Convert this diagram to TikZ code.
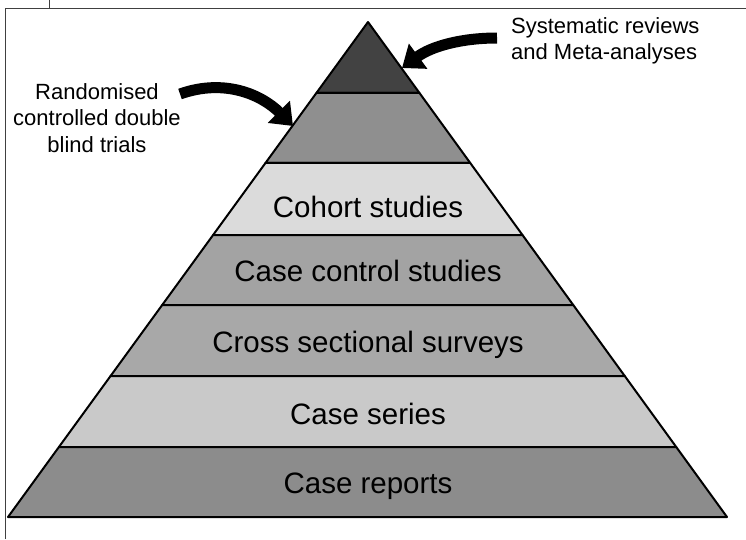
\documentclass[tikz,border=0pt]{standalone}
\usepackage{fontspec}
\setmainfont{Liberation Sans}
\usetikzlibrary{calc,arrows.meta}

\begin{document}
\begin{tikzpicture}[x=1pt,y=-1pt,
  band/.style={draw=black,line width=2pt,line join=round},
  tierlabel/.style={anchor=base,inner sep=0pt,font=\fontsize{29.5}{34}\selectfont},
  sidelabel/.style={anchor=base,inner sep=0pt,font=\fontsize{22}{26.5}\selectfont},
  pointer/.style={line width=11pt,-{Triangle[length=20pt,width=30pt]}}]
\useasboundingbox (0,0) rectangle (746,539);
\draw[black!75,line width=1pt] (5.5,539) -- (5.5,8) -- (746,8) (49,0) -- (49,8);
\coordinate (apex) at (368,22);
\coordinate (bl) at (8,517);
\coordinate (br) at (727,517);
\foreach \hi/\lo/\tone in {0/0.1434/74, 0.1434/0.2848/44, 0.2848/0.4303/14, 0.4303/0.5717/36, 0.5717/0.7152/34, 0.7152/0.8586/21, 0.8586/1/45}
  \filldraw[band,fill=black!\tone] ($(apex)!\hi!(bl)$) -- ($(apex)!\lo!(bl)$) -- ($(apex)!\lo!(br)$) -- ($(apex)!\hi!(br)$) -- cycle;
\node[tierlabel] (cohort) at (368,217) {Cohort studies};
\node[tierlabel] (casecontrol) at (368,281) {Case control studies};
\node[tierlabel] (cross) at (368,352) {Cross sectional surveys};
\node[tierlabel] (series) at (368,424) {Case series};
\node[tierlabel] (reports) at (368,493) {Case reports};
\node[sidelabel,align=center] (rct) at (97,152) {Randomised\\controlled double\\blind trials};
\node[sidelabel,align=left,anchor=base west] (sys) at (511,59.5) {Systematic reviews\\and Meta-analyses};
\coordinate (rcttail) at (180,94);
\coordinate (rcttip) at (293,126);
\coordinate (systail) at (497,38);
\coordinate (systip) at (402,68);
\draw[pointer] (rcttail) .. controls (225,78) and (262,95) .. (rcttip);
\draw[pointer] (systail) .. controls (462,38) and (432,46) .. (systip);
\end{tikzpicture}
\end{document}
